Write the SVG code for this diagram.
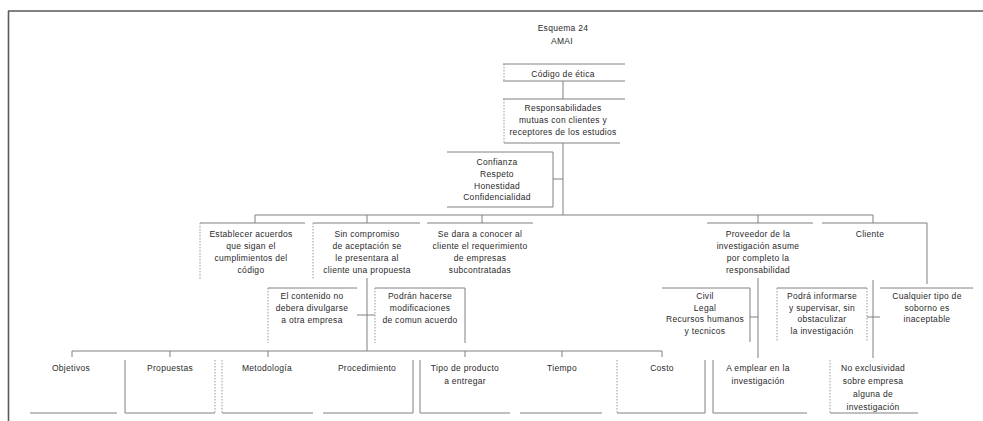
<svg xmlns="http://www.w3.org/2000/svg" width="983" height="421" viewBox="0 0 983 421">
<style>
text{font-family:"Liberation Sans",Arial,sans-serif;font-size:8.5px;fill:#2a2a2a;text-anchor:middle;letter-spacing:0.3px}
.ln{stroke:#808080;stroke-width:1;fill:none}
.dt{stroke:#9a9a9a;stroke-width:1;fill:none;stroke-dasharray:1.5,1.5}
.fr{stroke:#5a5a5a;stroke-width:1.6;fill:none}
</style>
<rect width="983" height="421" fill="#ffffff"/>
<g id="frame"><path class="fr" d="M8 11 H983 M8.5 11 V421"/></g>
<g id="title"><text x="563" y="31">Esquema 24</text><text x="562" y="44">AMAI</text></g>

<g id="connectors">
<path class="ln" d="M563 81 V99 M563 143 V215 M553 179 H563 M255 215 H873 M255 215 V223 M367 215 V223 M482 215 V223 M758 215 V223 M873 215 V223"/>
<path class="ln" d="M367 278 V351 M357 315 H375 M72 351 H662 M72 351 V357 M170 351 V357 M268 351 V357 M465 351 V357 M562 351 V357 M662 351 V357"/>
<path class="ln" d="M758 278 V358 M750 317 H758 M873 280 V358 M867 317 H880 M927 223 V284"/>
</g>

<g id="n-codigo"><path class="ln" d="M503 64 H625 M503 81 H625"/><path class="dt" d="M504 64 V81"/><text x="563" y="77">Código de ética</text></g>
<g id="n-responsabilidades"><path class="ln" d="M503 99 H625 M504 143 H620"/><path class="dt" d="M504 99 V143"/>
<text x="563" y="111">Responsabilidades</text><text x="563" y="123">mutuas con clientes y</text><text x="563" y="135">receptores de los estudios</text></g>
<g id="n-confianza"><path class="ln" d="M447 152 H553 V207 H447"/>
<text x="497" y="165">Confianza</text><text x="497" y="177">Respeto</text><text x="497" y="189">Honestidad</text><text x="497" y="200">Confidencialidad</text></g>

<g id="n-establecer"><path class="ln" d="M200 223 H305"/><path class="dt" d="M200 223 V280"/>
<text x="251" y="237">Establecer acuerdos</text><text x="251" y="249">que sigan el</text><text x="251" y="261">cumplimientos del</text><text x="251" y="273">código</text></g>
<g id="n-sincompromiso"><path class="ln" d="M313 223 H420"/><path class="dt" d="M313 223 V280"/>
<text x="367" y="237">Sin compromiso</text><text x="367" y="249">de aceptación se</text><text x="367" y="261">le presentara al</text><text x="367" y="273">cliente una propuesta</text></g>
<g id="n-sedara"><path class="ln" d="M427 223 H533"/>
<text x="480" y="237">Se dara a conocer al</text><text x="480" y="249">cliente el requerimiento</text><text x="480" y="261">de empresas</text><text x="480" y="273">subcontratadas</text></g>
<g id="n-proveedor"><path class="ln" d="M707 223 H813"/>
<text x="758" y="237">Proveedor de la</text><text x="758" y="249">investigación asume</text><text x="758" y="261">por completo la</text><text x="758" y="273">responsabilidad</text></g>
<g id="n-cliente"><path class="ln" d="M822 223 H927"/><text x="870" y="237">Cliente</text></g>

<g id="n-contenido"><path class="ln" d="M268 288 H357"/><path class="dt" d="M268 288 V343"/>
<text x="312" y="299">El contenido no</text><text x="312" y="311">debera divulgarse</text><text x="312" y="323">a otra empresa</text></g>
<g id="n-podran"><path class="ln" d="M375 288 H465 V343"/><path class="dt" d="M375 288 V343"/>
<text x="420" y="299">Podrán hacerse</text><text x="420" y="311">modificaciones</text><text x="420" y="323">de comun acuerdo</text></g>
<g id="n-civil"><path class="ln" d="M662 288 H750 V342"/>
<text x="705" y="299">Civil</text><text x="705" y="311">Legal</text><text x="705" y="322">Recursos humanos</text><text x="705" y="334">y tecnicos</text></g>
<g id="n-podra"><path class="ln" d="M777 288 H867"/><path class="dt" d="M777 288 V342 M867 288 V342"/>
<text x="822" y="299">Podrá informarse</text><text x="822" y="311">y supervisar, sin</text><text x="822" y="322">obstaculizar</text><text x="822" y="334">la investigación</text></g>
<g id="n-cualquier"><path class="ln" d="M880 288 H973"/>
<text x="927" y="299">Cualquier tipo de</text><text x="927" y="311">soborno es</text><text x="927" y="322">inaceptable</text></g>

<g id="n-objetivos"><path class="ln" d="M30 413 H117"/><text x="71" y="371">Objetivos</text></g>
<g id="n-propuestas"><path class="ln" d="M125 360 V413 H215"/><path class="dt" d="M215 360 V413"/><text x="170" y="371">Propuestas</text></g>
<g id="n-metodologia"><path class="ln" d="M222 413 H313"/><path class="dt" d="M222 360 V413"/><text x="267" y="371">Metodología</text></g>
<g id="n-procedimiento"><path class="ln" d="M323 413 H413 V360"/><text x="367" y="371">Procedimiento</text></g>
<g id="n-tipo"><path class="ln" d="M420 360 V413 H510"/><text x="465" y="371">Tipo de producto</text><text x="465" y="384">a entregar</text></g>
<g id="n-tiempo"><path class="ln" d="M520 413 H602"/><text x="562" y="371">Tiempo</text></g>
<g id="n-costo"><path class="ln" d="M617 413 H705 V360"/><path class="dt" d="M617 360 V413"/><text x="662" y="371">Costo</text></g>
<g id="n-emplear"><path class="ln" d="M713 360 V413 H807"/><text x="758" y="371">A emplear en la</text><text x="758" y="384">investigación</text></g>
<g id="n-noexclusividad"><path class="ln" d="M830 413 H918"/><path class="dt" d="M830 360 V413"/>
<text x="873" y="371">No exclusividad</text><text x="873" y="384">sobre empresa</text><text x="873" y="397">alguna de</text><text x="873" y="410">investigación</text></g>
</svg>
